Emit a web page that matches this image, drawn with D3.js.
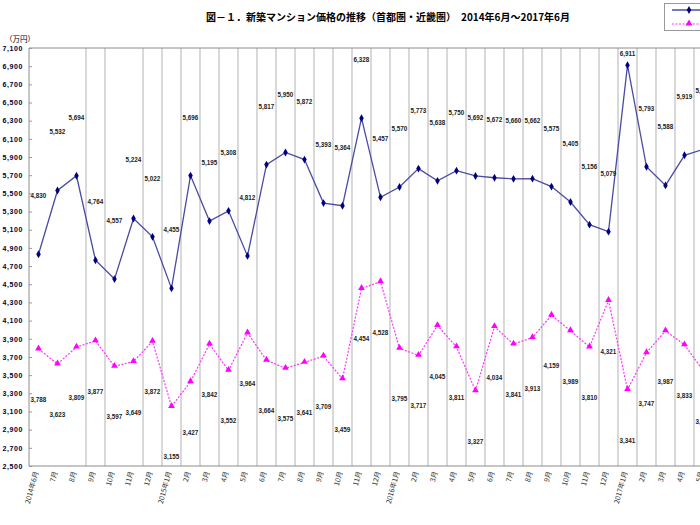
<!DOCTYPE html>
<html><head><meta charset="utf-8">
<script src="https://cdn.jsdelivr.net/npm/d3@7"></script>
<style>
html,body{margin:0;padding:0;background:#fff;overflow:hidden;}
svg{display:block;}
</style></head>
<body>
<svg id="chart" width="700" height="525"></svg>
<script>
const categories = ["2014年6月","7月","8月","9月","10月","11月","12月",
  "2015年1月","2月","3月","4月","5月","6月","7月","8月","9月","10月","11月","12月",
  "2016年1月","2月","3月","4月","5月","6月","7月","8月","9月","10月","11月","12月",
  "2017年1月","2月","3月","4月","5月","6月"];
const shutoken = [4830,5532,5694,4764,4557,5224,5022,4455,5696,5195,5308,4812,5817,5950,5872,5393,5364,6328,5457,
  5570,5773,5638,5750,5692,5672,5660,5662,5575,5405,5156,5079,6911,5793,5588,5919,5985,null];
const kinki = [3788,3623,3809,3877,3597,3649,3872,3155,3427,3842,3552,3964,3664,3575,3641,3709,3459,4454,4528,
  3795,3717,4045,3811,3327,4034,3841,3913,4159,3989,3810,4321,3341,3747,3987,3833,3545,null];
const yTicks = d3.range(2500, 7101, 200);
const seriesNames = ["首都圏","近畿圏"];
const titleText = "図－１．新築マンション価格の推移（首都圏・近畿圏）　2014年6月～2017年6月";
const unitText = "（万円）";

const W = 700;
const svg = d3.select("#chart");
const plotLeft = 29, plotTop = 48, plotBottom = 466;
const band = 19;
const x = d3.scaleBand().domain(d3.range(categories.length))
  .range([plotLeft, plotLeft + band * categories.length]).paddingInner(0).paddingOuter(0);
const y = d3.scaleLinear().domain([2500, 7100]).range([plotBottom, plotTop]);
const cx = i => x(i) + x.bandwidth() / 2;

const jp = "'Noto Sans CJK JP','Noto Sans',sans-serif";
const num = "'Liberation Sans','DejaVu Sans',sans-serif";

// title
svg.append("text").attr("x", 388).attr("y", 21).attr("text-anchor", "middle")
  .attr("font-family", jp).attr("font-size", 10).attr("font-weight", "bold").attr("fill", "#000")
  .text(titleText);
svg.append("text").attr("x", 5).attr("y", 42).attr("font-family", jp).attr("font-size", 7.5)
  .attr("fill", "#000").text(unitText);

// vertical gridlines at category boundaries
const hidden = new Set([1, 2, 5]);
svg.append("g").selectAll("line").data(d3.range(1, categories.length).filter(i => !hidden.has(i)))
  .join("line")
  .attr("x1", i => x(i)).attr("x2", i => x(i))
  .attr("y1", plotTop).attr("y2", plotBottom)
  .attr("stroke", "#c4c4c4").attr("stroke-width", 1.3);

// plot border
const right = plotLeft + band * categories.length;
svg.append("path").attr("d", `M${right},${plotTop}H${plotLeft}V${plotBottom}H${right}`)
  .attr("fill", "none").attr("stroke", "#8c8c8c").attr("stroke-width", 1);

// y axis
const yAxis = d3.axisLeft(y).tickValues(yTicks).tickSize(-3).tickPadding(6)
  .tickFormat(d3.format(","));
const ya = svg.append("g").attr("transform", `translate(${plotLeft},0)`).call(yAxis);
ya.select(".domain").remove();
ya.selectAll("line").attr("stroke", "#999");
ya.selectAll("text").attr("font-family", num).attr("font-size", 7).attr("font-weight", "bold")
  .attr("fill", "#000033").attr("letter-spacing", 0.6);

// x axis labels (only categories that fall inside the visible window)
const visibleCats = d3.range(categories.length).filter(i => cx(i) < W + 8);
const xa = svg.append("g").attr("transform", `translate(0,${plotBottom})`)
  .call(d3.axisBottom(x).tickValues(visibleCats).tickSize(0).tickFormat(i => categories[i]));
xa.select(".domain").remove();
xa.selectAll("text").attr("font-family", jp).attr("font-size", 7).attr("fill", "#333")
  .attr("text-anchor", "end").attr("dy", 0)
  .attr("transform", "translate(0,6) rotate(-75)").attr("y", 0).attr("x", 0);

// lines
const line = d3.line().defined(d => d.v != null).x(d => cx(d.i)).y(d => y(d.v));
const sData = shutoken.map((v, i) => ({i, v}));
const kData = kinki.map((v, i) => ({i, v}));

svg.append("path").datum(kData).attr("d", line).attr("fill", "none")
  .attr("stroke", "#ff33ff").attr("stroke-width", 1.2).attr("stroke-dasharray", "2,1.5");
svg.append("path").datum(sData).attr("d", line).attr("fill", "none")
  .attr("stroke", "#4b4ba3").attr("stroke-width", 1.3);

const diamond = d3.symbol().type(d3.symbolDiamond).size(18);
const tri = d3.symbol().type(d3.symbolTriangle).size(20);
svg.append("g").selectAll("path").data(sData.filter(d => d.v != null)).join("path")
  .attr("d", diamond).attr("transform", d => `translate(${cx(d.i)},${y(d.v)})`).attr("fill", "#000080");
svg.append("g").selectAll("path").data(kData.filter(d => d.v != null)).join("path")
  .attr("d", tri).attr("transform", d => `translate(${cx(d.i)},${y(d.v) - 0.5})`).attr("fill", "#ff00ff");

// data labels
const fmt = d3.format(",");
svg.append("g").selectAll("text").data(sData.filter(d => d.v != null)).join("text")
  .attr("x", d => cx(d.i)).attr("y", d => Math.max(y(d.v) - 56, plotTop + 8))
  .attr("text-anchor", "middle").attr("font-family", num).attr("font-size", 6.3)
  .attr("font-weight", "bold").attr("fill", "#222").text(d => fmt(d.v));
svg.append("g").selectAll("text").data(kData.filter(d => d.v != null)).join("text")
  .attr("x", d => cx(d.i)).attr("y", d => y(d.v) + 53)
  .attr("text-anchor", "middle").attr("font-family", num).attr("font-size", 6.3)
  .attr("font-weight", "bold").attr("fill", "#222").text(d => fmt(d.v));

// legend (cropped at the right edge, as in the source)
const lg = svg.append("g");
lg.append("rect").attr("x", 664.5).attr("y", 3.5).attr("width", 60).attr("height", 27)
  .attr("fill", "#fff").attr("stroke", "#999");
lg.append("line").attr("x1", 672).attr("x2", 706).attr("y1", 10).attr("y2", 10)
  .attr("stroke", "#4b4ba3").attr("stroke-width", 1.3)
  .append("title").text(seriesNames[0]);
lg.append("path").attr("d", diamond).attr("transform", "translate(689,10)").attr("fill", "#000080");
lg.append("line").attr("x1", 672).attr("x2", 706).attr("y1", 24).attr("y2", 24)
  .attr("stroke", "#ff33ff").attr("stroke-width", 1.2).attr("stroke-dasharray", "2,1.5")
  .append("title").text(seriesNames[1]);
lg.append("path").attr("d", tri).attr("transform", "translate(689,23.5)").attr("fill", "#ff00ff");
</script>
</body></html>
